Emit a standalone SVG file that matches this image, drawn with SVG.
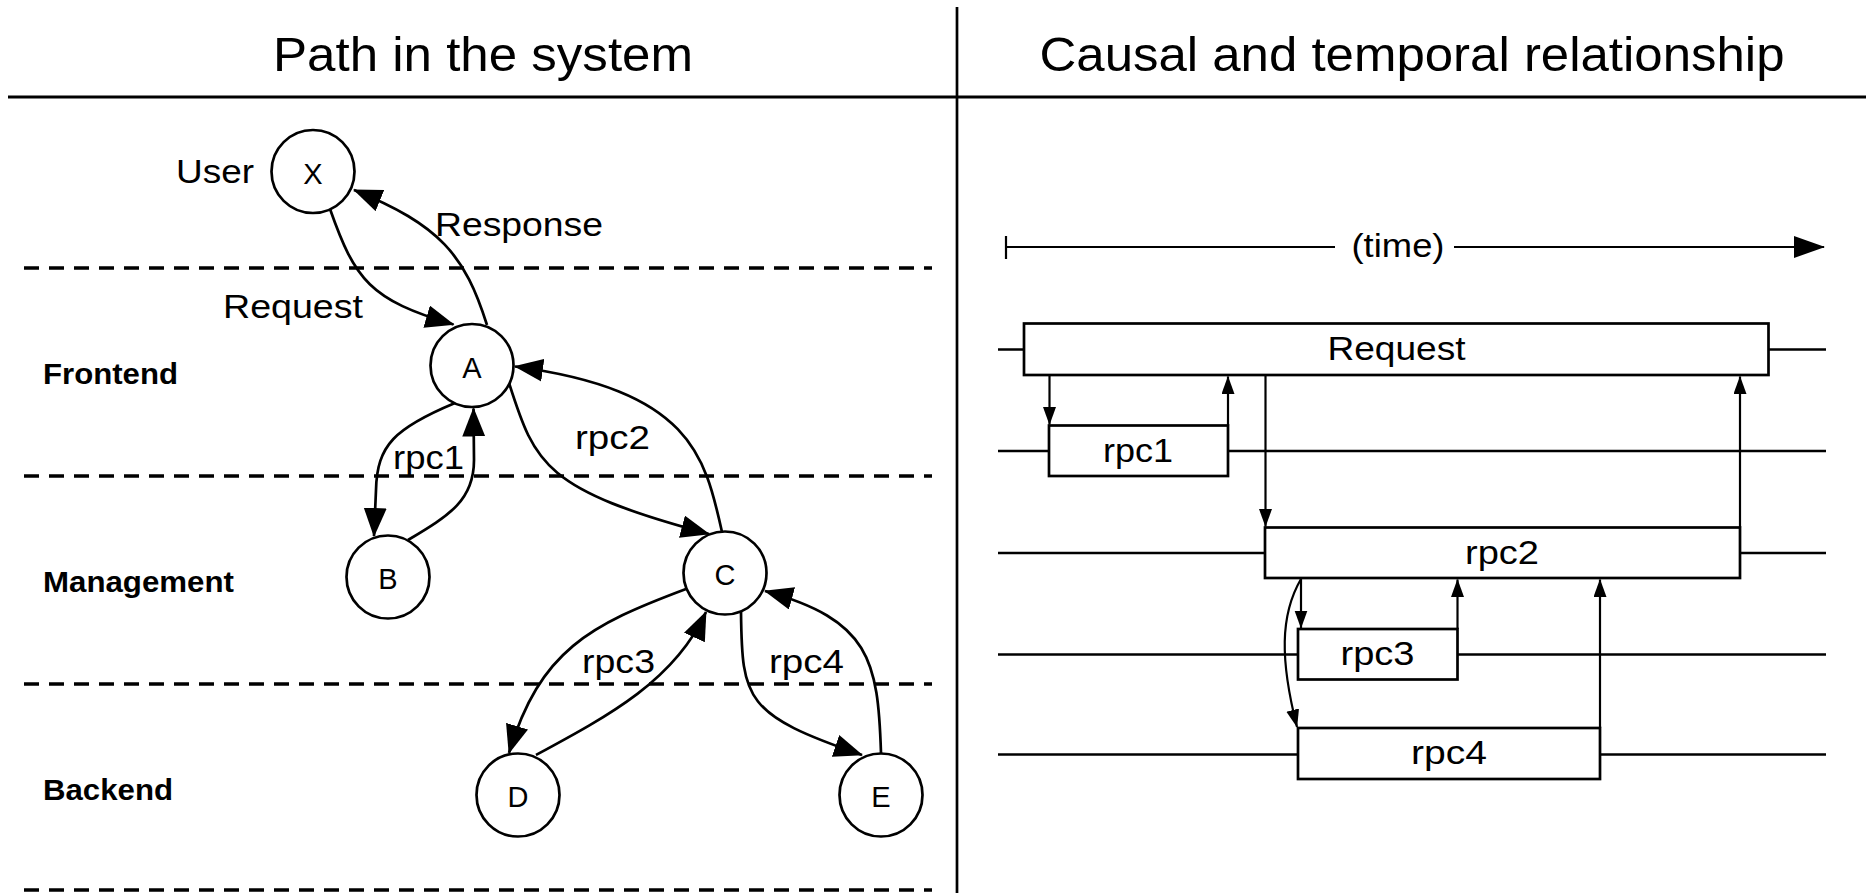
<svg xmlns="http://www.w3.org/2000/svg" width="1871" height="893" viewBox="0 0 1871 893">
<style>
text{font-family:"Liberation Sans",Arial,Helvetica,sans-serif;fill:#000}
.ttl{font-size:48px;text-anchor:middle}
.lbl{font-size:34px}
.mid{text-anchor:middle}
.lane{font-size:29px;font-weight:bold}
.rule{stroke:#000;stroke-width:3;fill:none}
.dash{stroke:#000;stroke-width:3.5;stroke-dasharray:15 10;fill:none}
.nd circle{fill:#fff;stroke:#000;stroke-width:2.7}
.nd text{font-size:29px;text-anchor:middle}
.c path{fill:none;stroke:#000;stroke-width:2.7}
.big{marker-end:url(#ah)}
.sm{marker-end:url(#as)}
.tl path,.tl line{stroke:#000;stroke-width:2.2;fill:none}
.lanes line{stroke:#000;stroke-width:2.6}
.box rect{fill:#fff;stroke:#000;stroke-width:2.7}
</style>
<defs>
<marker id="ah" markerUnits="userSpaceOnUse" markerWidth="30" markerHeight="24" refX="28" refY="11.5" orient="auto">
<path d="M0,0 L29,11.5 L0,23 z" fill="#000"/>
</marker>
<marker id="as" markerUnits="userSpaceOnUse" markerWidth="19" markerHeight="14" refX="17.5" refY="6.5" orient="auto">
<path d="M0,0 L18,6.5 L0,13 z" fill="#000"/>
</marker>
<marker id="at" markerUnits="userSpaceOnUse" markerWidth="32" markerHeight="23" refX="30" refY="11" orient="auto">
<path d="M0,0 L31,11 L0,22 z" fill="#000"/>
</marker>
</defs>
<rect width="1871" height="893" fill="#fff"/>

<!-- frame -->
<g id="frame">
<line class="rule" x1="8" y1="97" x2="1866" y2="97"/>
<line x1="957" y1="7" x2="957" y2="893" stroke="#000" stroke-width="2.7"/>
<text class="ttl" x="483" y="71" textLength="420" lengthAdjust="spacingAndGlyphs">Path in the system</text>
<text class="ttl" x="1412" y="71" textLength="745" lengthAdjust="spacingAndGlyphs">Causal and temporal relationship</text>
</g>

<!-- tiers -->
<g id="tiers">
<line class="dash" x1="24" y1="268" x2="932" y2="268"/>
<line class="dash" x1="24" y1="476" x2="932" y2="476"/>
<line class="dash" x1="24" y1="684" x2="932" y2="684"/>
<line class="dash" x1="24" y1="890" x2="932" y2="890"/>
<text class="lane" x="43" y="384" textLength="135" lengthAdjust="spacingAndGlyphs">Frontend</text>
<text class="lane" x="43" y="592" textLength="191" lengthAdjust="spacingAndGlyphs">Management</text>
<text class="lane" x="43" y="800" textLength="130" lengthAdjust="spacingAndGlyphs">Backend</text>
</g>

<!-- connectors (left) -->
<g id="connectors" class="c">
<path class="big" d="M330 209 C355 280, 370 300, 453.5 324.5"/>
<path class="big" d="M487 325 C465 255, 440 225, 354 190"/>
<path class="big" d="M455 403 C395 428, 377 445, 376 490 L374 536"/>
<path class="big" d="M408 540 C450 515, 474 500, 474 460 L473.5 408.5"/>
<path class="big" d="M509 383 C535 465, 545 490, 709 534"/>
<path class="big" d="M722 532 C705 455, 690 390, 515 366.5"/>
<path class="big" d="M686 589 C590 625, 540 650, 509 753"/>
<path class="big" d="M536 755 C610 715, 675 680, 706 612"/>
<path class="big" d="M741 612 C742 700, 745 715, 862 755"/>
<path class="big" d="M881 753 C878 660, 870 620, 765 591"/>
</g>

<!-- connector labels -->
<g id="edge-labels">
<text class="lbl" x="176" y="183" textLength="78" lengthAdjust="spacingAndGlyphs">User</text>
<text class="lbl" x="435" y="236" textLength="168" lengthAdjust="spacingAndGlyphs">Response</text>
<text class="lbl" x="223" y="318" textLength="140" lengthAdjust="spacingAndGlyphs">Request</text>
<text class="lbl" x="393" y="469" textLength="71" lengthAdjust="spacingAndGlyphs">rpc1</text>
<text class="lbl" x="575" y="449" textLength="75" lengthAdjust="spacingAndGlyphs">rpc2</text>
<text class="lbl" x="582" y="673" textLength="73" lengthAdjust="spacingAndGlyphs">rpc3</text>
<text class="lbl" x="769" y="673" textLength="75" lengthAdjust="spacingAndGlyphs">rpc4</text>
</g>

<!-- nodes -->
<g id="node-X" class="nd"><circle cx="313" cy="171.5" r="41.5"/><text x="313" y="183.5">X</text></g>
<g id="node-A" class="nd"><circle cx="472" cy="365.5" r="41.5"/><text x="472" y="377.5">A</text></g>
<g id="node-B" class="nd"><circle cx="388" cy="577" r="41.5"/><text x="388" y="589">B</text></g>
<g id="node-C" class="nd"><circle cx="725" cy="573" r="41.5"/><text x="725" y="585">C</text></g>
<g id="node-D" class="nd"><circle cx="518" cy="795" r="41.5"/><text x="518" y="807">D</text></g>
<g id="node-E" class="nd"><circle cx="881" cy="795" r="41.5"/><text x="881" y="807">E</text></g>

<!-- timeline -->
<g id="time-axis" class="tl">
<line x1="1006" y1="236" x2="1006" y2="259"/>
<line x1="1006" y1="247" x2="1335" y2="247"/>
<path d="M1454 247 L1824 247" marker-end="url(#at)"/>
<text class="lbl mid" x="1398" y="257" textLength="93" lengthAdjust="spacingAndGlyphs">(time)</text>
</g>

<g id="lanes" class="lanes">
<line x1="998" y1="349.5" x2="1826" y2="349.5"/>
<line x1="998" y1="451" x2="1826" y2="451"/>
<line x1="998" y1="553" x2="1826" y2="553"/>
<line x1="998" y1="654.5" x2="1826" y2="654.5"/>
<line x1="998" y1="754.5" x2="1826" y2="754.5"/>
</g>

<g id="span-Request" class="box"><rect x="1024" y="323.5" width="744.5" height="51.5"/><text class="lbl mid" x="1396.5" y="360" textLength="138" lengthAdjust="spacingAndGlyphs">Request</text></g>
<g id="span-rpc1" class="box"><rect x="1049" y="425.5" width="179" height="50.5"/><text class="lbl mid" x="1138" y="462" textLength="70" lengthAdjust="spacingAndGlyphs">rpc1</text></g>
<g id="span-rpc2" class="box"><rect x="1265" y="527.5" width="475" height="50.5"/><text class="lbl mid" x="1502" y="563.5" textLength="74" lengthAdjust="spacingAndGlyphs">rpc2</text></g>
<g id="span-rpc3" class="box"><rect x="1298" y="629" width="159.5" height="50.5"/><text class="lbl mid" x="1377.5" y="665" textLength="74" lengthAdjust="spacingAndGlyphs">rpc3</text></g>
<g id="span-rpc4" class="box"><rect x="1298" y="728" width="302" height="51"/><text class="lbl mid" x="1449" y="764" textLength="76" lengthAdjust="spacingAndGlyphs">rpc4</text></g>

<g id="span-connectors" class="c">
<path class="sm" style="stroke-width:2.2" d="M1049.5 375 L1049.5 424.5"/>
<path class="sm" style="stroke-width:2.2" d="M1228 425.5 L1228 376.5"/>
<path class="sm" style="stroke-width:2.2" d="M1265.5 375 L1265.5 526.5"/>
<path class="sm" style="stroke-width:2.2" d="M1740 527.5 L1740 376.5"/>
<path class="sm" style="stroke-width:2.2" d="M1301 578 L1301 628"/>
<path class="sm" style="stroke-width:2.2" d="M1457.5 629 L1457.5 579.5"/>
<path class="sm" style="stroke-width:2.2" d="M1301 579 C1280 615, 1280 660, 1297 727"/>
<path class="sm" style="stroke-width:2.2" d="M1600 728 L1600 579.5"/>
</g>
</svg>
